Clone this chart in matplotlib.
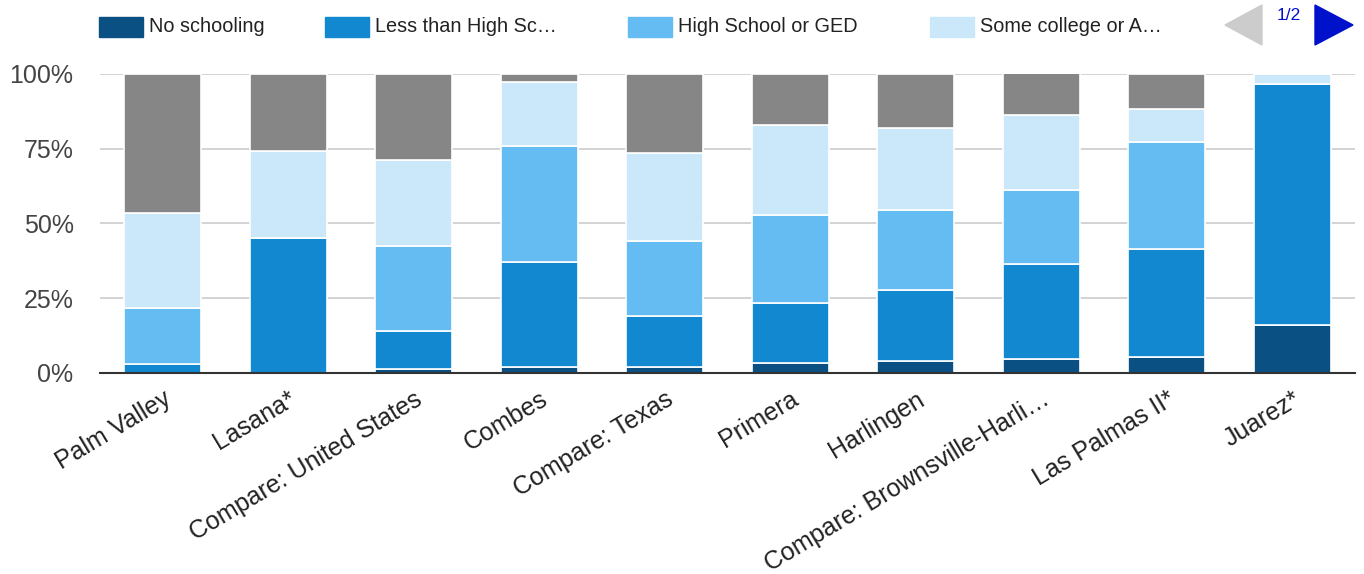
import matplotlib

matplotlib.use("Agg")
import matplotlib.pyplot as plt
from matplotlib.patches import Polygon, Rectangle
from matplotlib.ticker import FuncFormatter

plt.rcParams["font.family"] = ["Liberation Sans", "DejaVu Sans"]

places = [
    "Palm Valley",
    "Lasana*",
    "Compare: United States",
    "Combes",
    "Compare: Texas",
    "Primera",
    "Harlingen",
    "Compare: Brownsville-Harli\u2026",
    "Las Palmas II*",
    "Juarez*",
]

# shares in percent
no_schooling = [0.0, 0.0, 1.3, 2.0, 2.0, 3.3, 3.9, 4.6, 5.4, 16.2]
less_than_hs = [2.9, 45.1, 12.8, 35.1, 16.9, 20.2, 23.8, 31.7, 36.2, 80.5]
high_school = [18.7, 0.0, 28.3, 38.9, 25.4, 29.5, 26.8, 25.0, 35.7, 0.0]
some_college = [31.8, 29.1, 29.0, 21.2, 29.2, 29.9, 27.6, 25.1, 10.9, 3.3]
bachelors_plus = [46.6, 25.8, 28.6, 2.8, 26.5, 17.1, 17.9, 14.6, 11.8, 0.0]

series = [
    ("No schooling", no_schooling, "#0b5083"),
    ("Less than High Sc\u2026", less_than_hs, "#1188d0"),
    ("High School or GED", high_school, "#65bcf2"),
    ("Some college or A\u2026", some_college, "#cbe8fb"),
    ("Bachelor's or higher", bachelors_plus, "#868686"),
]

W, H = 1364, 574
fig = plt.figure(figsize=(W / 100, H / 100), dpi=100)
ax = fig.add_axes([100 / W, 1 - 373 / H, 1255 / W, 299 / H])

x = list(range(len(places)))
bottom = [0.0] * len(places)
for name, vals, color in series:
    ax.bar(x, vals, bottom=bottom, width=0.61, color=color,
           edgecolor="white", linewidth=1.2, zorder=3)
    bottom = [b + v for b, v in zip(bottom, vals)]

ax.set_xlim(-0.5, len(places) - 0.5)
ax.set_ylim(0, 100)
ax.set_yticks([0, 25, 50, 75, 100])
ax.yaxis.set_major_formatter(FuncFormatter(lambda v, _: f"{v:.0f}%"))
ax.grid(axis="y", color="#cccccc", linewidth=1.2, zorder=0)
for side in ("top", "right", "left"):
    ax.spines[side].set_visible(False)
ax.spines["bottom"].set_color("#333333")
ax.spines["bottom"].set_linewidth(1.5)
ax.spines["bottom"].set_zorder(5)
ax.tick_params(axis="y", length=0, pad=19, labelsize=18, labelcolor="#444444")
ax.tick_params(axis="x", length=0, pad=10)
ax.set_xticks(x)
ax.set_xticklabels(places, rotation=31, ha="right", rotation_mode="anchor",
                   fontsize=18, color="#222222")

# legend (first page)
leg_x = [99, 325, 628, 930]
for (name, _, color), lx in zip(series[:4], leg_x):
    fig.patches.append(Rectangle((lx / W, 1 - 37 / H), 44 / W, 20 / H,
                                 transform=fig.transFigure, color=color))
    fig.text((lx + 50) / W, 1 - 27 / H, name, fontsize=14.3,
             color="#222222", va="center", ha="left")

# pager
fig.patches.append(Polygon([(1262 / W, 1 - 5 / H), (1262 / W, 1 - 45 / H),
                            (1225 / W, 1 - 25 / H)], closed=True,
                           transform=fig.transFigure, color="#cccccc"))
fig.patches.append(Polygon([(1315 / W, 1 - 5 / H), (1315 / W, 1 - 45 / H),
                            (1353 / W, 1 - 25 / H)], closed=True,
                           transform=fig.transFigure, color="#0011cc"))
fig.text(1289 / W, 1 - 16 / H, "1/2", fontsize=12.5, color="#0011cc",
         ha="center", va="center")

fig.savefig("out.png", dpi=100)
